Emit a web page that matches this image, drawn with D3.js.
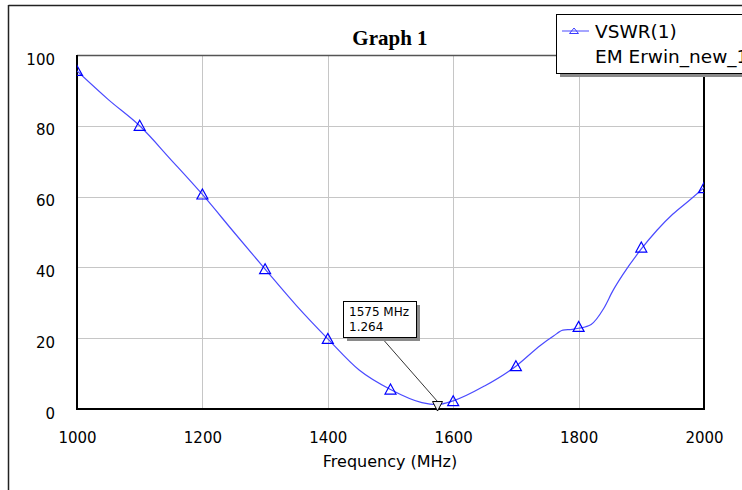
<!DOCTYPE html>
<html lang="en">
<head>
<meta charset="UTF-8">
<title>Graph 1</title>
<script src="https://d3js.org/d3.v7.min.js"></script>
<style>
  body { margin: 0; background: #fff; }
  svg text { font-family: "DejaVu Sans", sans-serif; fill: #000; }
</style>
</head>
<body>
<svg id="canvas"></svg>
<script>
// curve (MHz, VSWR)
let freq = [1000,1050,1100,1150,1200,1250,1300,1350,1400,1450,1500,1550,1575,1600,1650,1700,1740,1760,1775,1790,1800,1820,1840,1855,1870,1900,1925,1950,1975,2000]
let vswr = [95.5,87.4,80.0,70.4,60.6,50.0,39.5,29.2,19.8,11.0,5.5,1.8,1.26,2.3,6.5,12.1,18.1,20.6,22.3,22.5,22.8,23.9,28.4,33.5,37.8,45.2,50.5,55.0,58.7,62.5]

// triangle markers every 100 MHz
let markFreq = [1000,1100,1200,1300,1400,1500,1600,1700,1800,1900,2000]
let markVals = [95.5,80.0,60.6,39.5,19.8,5.5,2.2,12.1,23.2,45.6,62.4]

let xTicks = [1000,1200,1400,1600,1800,2000]
let yTicks = [0,20,40,60,80,100]

let markerFreq = 1575
let markerVal = 1.264

let width = 742
let height = 490
let padL = 77, padR = 704, padT = 55, padB = 409

let svg = d3.select("#canvas")
  .attr("width", width)
  .attr("height", height)

let xScale = d3.scaleLinear().domain([1000, 2000]).range([padL, padR])
let yScale = d3.scaleLinear().domain([0, 100]).range([padB, padT])

// outer frame
svg.append("line").attr("x1", 8.5).attr("x2", width).attr("y1", 5.5).attr("y2", 5.5)
   .attr("stroke", "#222").attr("stroke-width", 1.5)
svg.append("line").attr("x1", 8.5).attr("x2", 8.5).attr("y1", 5).attr("y2", height)
   .attr("stroke", "#222").attr("stroke-width", 1.5)

// title
svg.append("text")
   .attr("x", 390).attr("y", 45)
   .attr("text-anchor", "middle")
   .style("font-family", "'Liberation Serif', serif")
   .style("font-weight", "bold")
   .style("font-size", "21px")
   .text("Graph 1")

// grid
svg.append("g").selectAll("line")
   .data(xTicks.slice(1, -1))
   .enter().append("line")
   .attr("x1", d => Math.round(xScale(d)) + 0.5).attr("x2", d => Math.round(xScale(d)) + 0.5)
   .attr("y1", padT).attr("y2", padB)
   .attr("stroke", "#c6c6c6")
svg.append("g").selectAll("line")
   .data(yTicks.slice(1, -1))
   .enter().append("line")
   .attr("y1", d => Math.round(yScale(d)) + 0.5).attr("y2", d => Math.round(yScale(d)) + 0.5)
   .attr("x1", padL).attr("x2", padR)
   .attr("stroke", "#c6c6c6")

// axes (labels only)
let xAxis = d3.axisBottom(xScale).tickValues(xTicks).tickSize(0).tickFormat(d3.format("d"))
let gx = svg.append("g")
   .attr("transform", "translate(0," + padB + ")")
   .call(xAxis)
gx.select(".domain").remove()
gx.selectAll("text").attr("y", 34).attr("dy", null).style("font-size", "15px").attr("fill", "#000")

let yAxis = d3.axisLeft(yScale).tickValues(yTicks).tickSize(0)
let gy = svg.append("g")
   .attr("transform", "translate(" + padL + ",0)")
   .call(yAxis)
gy.select(".domain").remove()
gy.selectAll("text").attr("x", -22).attr("dy", "0.6em").style("font-size", "15px").attr("fill", "#000")

svg.append("text")
   .attr("x", 390).attr("y", 467)
   .attr("text-anchor", "middle")
   .style("font-size", "16px")
   .text("Frequency (MHz)")

// plot frame
svg.append("line").attr("x1", padL).attr("x2", padR).attr("y1", padT + 0.5).attr("y2", padT + 0.5)
   .attr("stroke", "#555").attr("stroke-width", 1.5)
svg.append("line").attr("x1", padL).attr("x2", padL).attr("y1", padT).attr("y2", padB + 1)
   .attr("stroke", "#000").attr("stroke-width", 2)
svg.append("line").attr("x1", padR).attr("x2", padR).attr("y1", padT).attr("y2", padB + 1)
   .attr("stroke", "#000").attr("stroke-width", 2)
svg.append("line").attr("x1", padL).attr("x2", padR + 1).attr("y1", padB).attr("y2", padB)
   .attr("stroke", "#000").attr("stroke-width", 2)

svg.append("clipPath").attr("id", "clip")
   .append("rect").attr("x", padL).attr("y", padT).attr("width", padR - padL).attr("height", padB - padT)

let plot = svg.append("g").attr("clip-path", "url(#clip)")

let line = d3.line()
   .x((d, i) => xScale(freq[i]))
   .y(d => yScale(d))
   .curve(d3.curveMonotoneX)

plot.append("path")
   .datum(vswr)
   .attr("d", line)
   .attr("fill", "none")
   .attr("stroke", "#4a4aff")
   .attr("stroke-width", 1.2)

let tri = "M0,-5.5L5.5,4.5L-5.5,4.5Z"
plot.selectAll(".mark")
   .data(markVals)
   .enter().append("path")
   .attr("class", "mark")
   .attr("d", tri)
   .attr("transform", (d, i) => "translate(" + xScale(markFreq[i]) + "," + yScale(d) + ")")
   .attr("fill", "none")
   .attr("stroke", "#0000ff")
   .attr("stroke-width", 1.2)

// marker callout
let mx = xScale(markerFreq), my = yScale(markerVal)
svg.append("line")
   .attr("x1", 381).attr("y1", 337).attr("x2", mx).attr("y2", my - 3)
   .attr("stroke", "#000").attr("stroke-width", 0.8)
svg.append("path")
   .attr("d", "M-5,-3L5,-3L0,6.5Z")
   .attr("transform", "translate(" + mx + "," + my + ")")
   .attr("fill", "#eee").attr("stroke", "#000")
svg.append("rect").attr("x", 347).attr("y", 305).attr("width", 73).attr("height", 36).attr("fill", "#8a8a8a")
svg.append("rect").attr("x", 343.5).attr("y", 301.5).attr("width", 73).attr("height", 36)
   .attr("fill", "#fff").attr("stroke", "#000")
svg.append("text").attr("x", 349).attr("y", 316).style("font-size", "12px").text(markerFreq + " MHz")
svg.append("text").attr("x", 349).attr("y", 331).style("font-size", "12px").text(markerVal)

// legend
svg.append("rect").attr("x", 560).attr("y", 18).attr("width", 200).attr("height", 59).attr("fill", "#8a8a8a")
svg.append("rect").attr("x", 556.5).attr("y", 14.5).attr("width", 200).attr("height", 59)
   .attr("fill", "#fff").attr("stroke", "#000")
svg.append("line").attr("x1", 562).attr("x2", 589).attr("y1", 31).attr("y2", 31)
   .attr("stroke", "#6a6aff").attr("stroke-width", 1.2)
svg.append("path").attr("d", "M0,-3L4.5,2.5L-4.5,2.5Z")
   .attr("transform", "translate(574,31)")
   .attr("fill", "none").attr("stroke", "#3a3aff")
svg.append("text").attr("x", 595).attr("y", 38).style("font-size", "18.5px").text("VSWR(1)")
svg.append("text").attr("x", 595).attr("y", 63).style("font-size", "18.5px").text("EM Erwin_new_1")
</script>
</body>
</html>
